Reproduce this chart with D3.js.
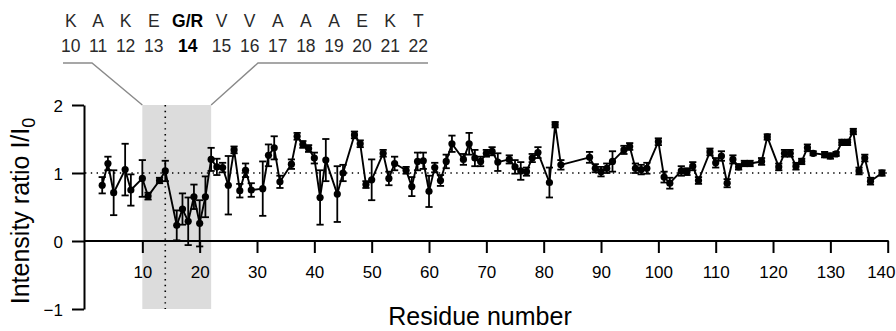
<!DOCTYPE html>
<html>
<head>
<meta charset="utf-8">
<script src="https://cdn.jsdelivr.net/npm/d3@7"></script>
<style>
  html, body { margin: 0; padding: 0; background: #fff; }
  svg { display: block; font-family: "Liberation Sans", Arial, Helvetica, sans-serif; }
</style>
</head>
<body>
<svg id="chart" width="896" height="331"></svg>
<script>
// Residues with a measured peak
const residues = [3,4,5,7,8,10,11,13,14,16,17,18,19,20,21,22,23,24,25,26,27,28,29,31,32,33,34,36,37,38,39,40,41,42,44,45,47,48,49,50,52,53,54,56,57,58,59,60,61,62,63,64,66,67,68,69,70,71,72,74,75,76,77,78,79,81,82,83,88,89,90,91,92,94,95,96,97,98,100,101,102,104,105,106,107,109,110,111,112,113,114,115,116,118,119,121,122,123,124,125,126,127,129,130,131,132,133,134,135,136,137,139];
// Intensity ratio I/I0 per residue
const ratios = [0.82,1.14,0.71,1.05,0.75,0.92,0.66,0.89,1.03,0.23,0.47,0.29,0.65,0.26,0.65,1.20,1.09,1.08,0.82,1.34,0.74,1.04,0.75,0.77,1.26,1.37,0.87,1.13,1.54,1.42,1.36,1.22,0.64,1.19,0.69,1.00,1.56,1.43,0.83,0.90,1.29,0.92,1.14,1.04,0.80,1.17,1.18,0.73,1.08,0.89,1.17,1.43,1.20,1.43,1.22,1.17,1.29,1.32,1.16,1.20,1.09,1.03,1.02,1.22,1.30,0.86,1.71,1.12,1.23,1.07,1.02,1.07,1.17,1.34,1.39,1.07,1.05,1.07,1.46,0.94,0.85,1.03,1.02,1.10,0.89,1.31,1.15,1.25,0.85,1.20,1.09,1.14,1.14,1.17,1.53,1.09,1.29,1.29,1.10,1.17,1.37,1.29,1.27,1.25,1.28,1.45,1.45,1.61,1.03,1.22,0.88,1.00];
// Error (± SD) per residue
const errors = [0.12,0.10,0.33,0.38,0.23,0.27,0.05,0.04,0.15,0.22,0.23,0.35,0.18,0.34,0.30,0.17,0.12,0.07,0.43,0.05,0.10,0.10,0.10,0.40,0.16,0.17,0.09,0.07,0.05,0.05,0.05,0.08,0.40,0.31,0.41,0.12,0.05,0.05,0.05,0.30,0.05,0.10,0.10,0.05,0.14,0.13,0.12,0.23,0.07,0.08,0.10,0.12,0.08,0.16,0.12,0.07,0.05,0.06,0.13,0.06,0.10,0.13,0.06,0.06,0.08,0.22,0.04,0.07,0.08,0.06,0.07,0.07,0.15,0.06,0.05,0.07,0.07,0.08,0.05,0.08,0.08,0.07,0.05,0.06,0.05,0.05,0.07,0.07,0.06,0.06,0.04,0.04,0.04,0.05,0.04,0.05,0.05,0.05,0.05,0.04,0.05,0.03,0.04,0.04,0.03,0.04,0.04,0.04,0.05,0.05,0.05,0.04];

// Axis ticks
const xTicks = [10,20,30,40,50,60,70,80,90,100,110,120,130,140];
const yTicks = [-1,0,1,2];

// Zoomed sequence stretch around the mutation site
const seqLetters = ["K","A","K","E","G/R","V","V","A","A","A","E","K","T"];
const seqNumbers = [10,11,12,13,14,15,16,17,18,19,20,21,22];
const mutationSite = 14;
const regionStart = 10, regionEnd = 22;

const W = 896;
const svg = d3.select("#chart");
const x = d3.scaleLinear().domain([0, 140]).range([85, 887.7]);
const y = d3.scaleLinear().domain([-1, 2]).range([309, 105]);

const data = residues.map((r, i) => ({ r, v: ratios[i], e: errors[i] }));

// Highlighted region
svg.append("rect")
  .attr("x", x(regionStart)).attr("y", y(2))
  .attr("width", x(regionEnd) - x(regionStart))
  .attr("height", y(-1) - y(2))
  .attr("fill", "#dcdcdc");

// Reference lines: ratio = 1 and the mutation site
svg.append("line")
  .attr("x1", x(0)).attr("x2", x(140))
  .attr("y1", y(1)).attr("y2", y(1))
  .attr("stroke", "#000").attr("stroke-width", 1.6)
  .attr("stroke-dasharray", "1.4,4.4");
svg.append("line")
  .attr("x1", x(mutationSite)).attr("x2", x(mutationSite))
  .attr("y1", y(2)).attr("y2", y(-1))
  .attr("stroke", "#000").attr("stroke-width", 1.6)
  .attr("stroke-dasharray", "1.4,4.4");

// Axes
const xAxis = svg.append("g")
  .attr("transform", `translate(0,${y(0)})`)
  .call(d3.axisBottom(x).tickValues(xTicks).tickSize(12).tickSizeOuter(0).tickPadding(13));
xAxis.select(".domain").attr("d", `M${x(0) - 1},0H${x(140) + 1}`);
const yAxis = svg.append("g")
  .attr("transform", `translate(${x(0) - 1},0)`)
  .call(d3.axisLeft(y).tickValues(yTicks).tickSize(12).tickSizeOuter(0).tickPadding(9)
    .tickFormat(d3.format("d")));
[xAxis, yAxis].forEach(g => {
  g.selectAll(".domain, .tick line").attr("stroke", "#000").attr("stroke-width", 2);
  g.selectAll(".tick text").attr("fill", "#000").attr("font-size", 17)
    .attr("font-family", "Liberation Sans, Arial, sans-serif");
});
yAxis.selectAll(".tick text").attr("dy", "0.36em");
// keep the last tick label inside the drawing
xAxis.selectAll(".tick").each(function(d) {
  const t = d3.select(this).select("text");
  const half = t.node().getComputedTextLength() / 2;
  const overflow = x(d) + half - (W - 1);
  if (overflow > 0) t.attr("x", -overflow);
});

// Error bars
const eb = svg.append("g").attr("stroke", "#000").attr("stroke-width", 1.8);
const capW = 3.6;
data.forEach(d => {
  const xc = x(d.r), yt = y(d.v + d.e), yb = y(d.v - d.e);
  eb.append("line").attr("x1", xc).attr("x2", xc).attr("y1", yt).attr("y2", yb);
  eb.append("line").attr("x1", xc - capW).attr("x2", xc + capW).attr("y1", yt).attr("y2", yt);
  eb.append("line").attr("x1", xc - capW).attr("x2", xc + capW).attr("y1", yb).attr("y2", yb);
});

// Connecting line and markers
svg.append("path")
  .datum(data)
  .attr("fill", "none").attr("stroke", "#000").attr("stroke-width", 1.9)
  .attr("stroke-linejoin", "round")
  .attr("d", d3.line().x(d => x(d.r)).y(d => y(d.v)));
svg.append("g").selectAll("circle")
  .data(data).join("circle")
  .attr("cx", d => x(d.r)).attr("cy", d => y(d.v)).attr("r", 3.6)
  .attr("fill", "#000");

// Axis titles
svg.append("text")
  .attr("x", 480).attr("y", 325)
  .attr("text-anchor", "middle").attr("font-size", 25).attr("fill", "#000")
  .text("Residue number");
const yTitle = svg.append("text")
  .attr("transform", "translate(29,211) rotate(-90)")
  .attr("text-anchor", "middle").attr("font-size", 25).attr("fill", "#000");
yTitle.append("tspan").text("Intensity ratio I/I");
yTitle.append("tspan").attr("font-size", 18).attr("dy", 6).text("0");

// Sequence annotation above the plot
const seqLeft = 61, seqRight = 428;
const lettersRow = svg.append("g");
const numbersRow = svg.append("g");
const letterEls = seqLetters.map((t, i) => lettersRow.append("text")
  .attr("y", 27).attr("text-anchor", "middle").attr("font-size", 17.5)
  .attr("font-weight", seqNumbers[i] === mutationSite ? "bold" : "normal")
  .attr("fill", seqNumbers[i] === mutationSite ? "#000" : "#2a2a2a").text(t));
const numberEls = seqNumbers.map(n => numbersRow.append("text")
  .attr("y", 52).attr("text-anchor", "middle").attr("font-size", 17.5)
  .attr("font-weight", n === mutationSite ? "bold" : "normal")
  .attr("fill", n === mutationSite ? "#000" : "#2a2a2a").text(n));
const colW = seqNumbers.map((n, i) => Math.max(
  letterEls[i].node().getComputedTextLength(),
  numberEls[i].node().getComputedTextLength()));
const gap = (seqRight - seqLeft - d3.sum(colW)) / (colW.length - 1);
let cursor = seqLeft;
colW.forEach((w, i) => {
  const cx = cursor + w / 2;
  letterEls[i].attr("x", cx);
  numberEls[i].attr("x", cx);
  cursor += w + gap;
});

// Connectors from the annotation to the highlighted region
const connY = 63;
svg.append("path")
  .attr("fill", "none").attr("stroke", "#8a8a8a").attr("stroke-width", 1.4)
  .attr("d", `M${seqLeft + 2},${connY}H92L${x(regionStart)},${y(2)}`);
svg.append("path")
  .attr("fill", "none").attr("stroke", "#8a8a8a").attr("stroke-width", 1.4)
  .attr("d", `M${x(regionEnd)},${y(2)}L258,${connY}H${seqRight}`);
</script>
</body>
</html>
